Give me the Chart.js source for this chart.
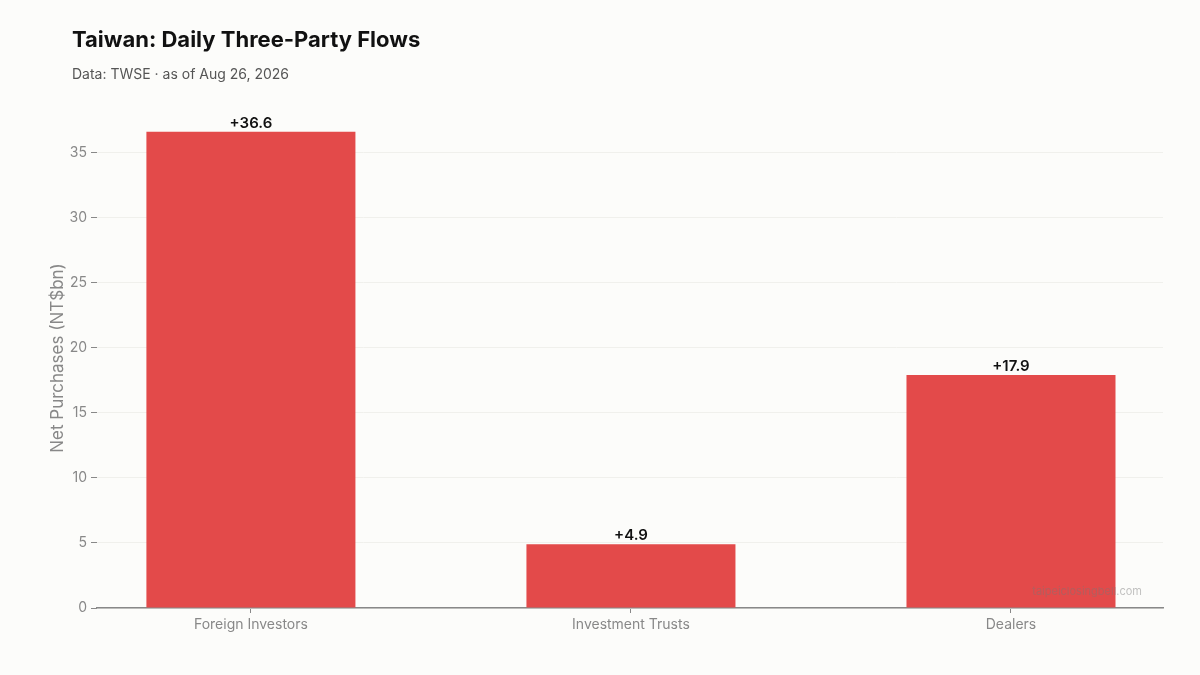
<!DOCTYPE html>
<html>
<head>
<meta charset="utf-8">
<script src="https://cdn.jsdelivr.net/npm/chart.js@4"></script>
<style>
  html, body { margin: 0; padding: 0; background: #fcfcfa; }
  #wrap { width: 1200px; height: 675px; }
</style>
</head>
<body>
<div id="wrap"><canvas id="myChart" width="1200" height="675"></canvas></div>
<script>
// chart data
const categories = ['Foreign Investors', 'Investment Trusts', 'Dealers'];
const netBuy = [36.6, 4.9, 17.9];
const yTicks = [0, 5, 10, 15, 20, 25, 30, 35];

const FONT = 'Inter, "Noto Sans", sans-serif';

// title, subtitle, watermark and value labels
const decorPlugin = {
  id: 'decor',
  beforeDraw(chart) {
    const ctx = chart.ctx;
    ctx.save();
    ctx.fillStyle = '#fcfcfa';
    ctx.fillRect(0, 0, chart.width, chart.height);
    ctx.textAlign = 'left';
    ctx.textBaseline = 'alphabetic';
    ctx.fillStyle = '#111';
    ctx.font = '700 22px ' + FONT;
    ctx.fillText('Taiwan: Daily Three-Party Flows', 72, 47);
    ctx.fillStyle = '#555';
    ctx.font = '14px ' + FONT;
    ctx.fillText('Data: TWSE · as of Aug 26, 2026', 72, 79);
    ctx.restore();
  },
  afterDatasetsDraw(chart) {
    const ctx = chart.ctx;
    const meta = chart.getDatasetMeta(0);
    ctx.save();
    ctx.fillStyle = '#111';
    ctx.font = '600 15px ' + FONT;
    ctx.textAlign = 'center';
    ctx.textBaseline = 'bottom';
    meta.data.forEach((bar, i) => {
      const v = netBuy[i];
      ctx.fillText((v >= 0 ? '+' : '') + v.toFixed(1), bar.x, bar.y - 1);
    });
    ctx.restore();
  },
  afterDraw(chart) {
    const ctx = chart.ctx;
    ctx.save();
    ctx.fillStyle = 'rgba(120,120,120,0.45)';
    ctx.font = '11px ' + FONT;
    ctx.textAlign = 'right';
    ctx.textBaseline = 'middle';
    ctx.fillText('taipeiclosingbell.com', 1142, 592);
    ctx.restore();
  }
};

const ctx = document.getElementById('myChart').getContext('2d');
const myChart = new Chart(ctx, {
  type: 'bar',
  data: {
    datasets: [{
      label: 'Net Purchases',
      data: netBuy.map((v, i) => ({ x: i, y: v })),
      backgroundColor: '#e34a4a',
      borderWidth: 0,
      barPercentage: 0.55,
      categoryPercentage: 1
    }]
  },
  options: {
    responsive: false,
    animation: false,
    layout: { padding: { top: 108, left: 48, right: 37, bottom: 25 } },
    plugins: {
      legend: { display: false },
      tooltip: { enabled: false }
    },
    scales: {
      x: {
        type: 'linear',
        min: -0.405,
        max: 2.4,
        offset: false,
        afterBuildTicks: (scale) => { scale.ticks = categories.map((c, i) => ({ value: i })); },
        afterFit: (scale) => { scale.height = 42; },
        border: { display: true, color: '#888', width: 1.5 },
        grid: { offset: false, drawOnChartArea: false, drawTicks: true, tickLength: 5, tickColor: '#888' },
        ticks: {
          color: '#888',
          font: { family: FONT, size: 14 },
          padding: 3,
          callback: (v) => categories[v]
        }
      },
      y: {
        min: 0,
        max: 36.6 * 1.05,
        afterBuildTicks: (scale) => { scale.ticks = yTicks.map(v => ({ value: v })); },
        afterFit: (scale) => { scale.width = 49; },
        border: { display: false },
        grid: { color: '#f0f0ec', lineWidth: 1, tickLength: 6, tickColor: '#888' },
        ticks: {
          color: '#888',
          font: { family: FONT, size: 14 },
          padding: 4
        },
        title: {
          display: true,
          text: 'Net Purchases (NT$bn)',
          color: '#888',
          font: { family: FONT, size: 17 },
          padding: { top: 0, bottom: 0 }
        }
      }
    }
  },
  plugins: [decorPlugin]
});
</script>
</body>
</html>
